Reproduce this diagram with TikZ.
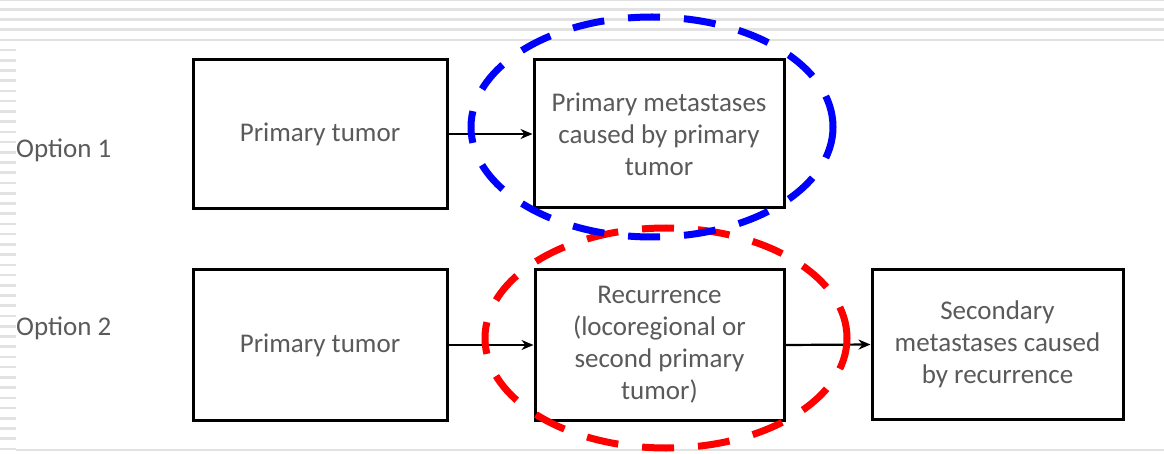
\documentclass[tikz,border=0pt]{standalone}
\usepackage{fontspec}
\setmainfont{Carlito}
\usetikzlibrary{arrows.meta}
\definecolor{stripe}{HTML}{E2E2E2}
\definecolor{txt}{HTML}{5A5A5A}
\tikzset{
  stripeline/.style={stripe, line width=2.6pt},
  flowbox/.style={draw=black, line width=3pt, fill=white, inner sep=0pt, align=center,
    text=txt, font=\fontsize{27}{32}\selectfont},
  optlabel/.style={anchor=west, inner sep=0pt, text=txt, font=\fontsize{27}{32}\selectfont},
  flowarrow/.style={draw=black, line width=2.2pt, -{Stealth[length=12pt,width=10pt]}},
  dashring/.style={line width=7pt, dash pattern=on 32pt off 24pt},
}
\begin{document}
\begin{tikzpicture}[x=1pt,y=-1pt]
\useasboundingbox (0,0) rectangle (1164,454);
% background stripes
\foreach \yy in {0,9.5,19.5,29.5,40}{
  \draw[stripeline] (0,\yy) -- (1164,\yy);
}
\foreach \i in {0,...,39}{
  \draw[stripeline] (0,50+10.23*\i) -- (16,50+10.23*\i);
}
\draw[stripe, line width=1.5pt] (16,450) -- (1164,450);
% labels
\node[optlabel] (opt1) at (16,150) {Option 1};
\node[optlabel] (opt2) at (16,328) {Option 2};
% boxes row 1
\node[flowbox, minimum width=254pt, minimum height=149pt] (pt1) at (320,134) {Primary tumor};
\node[flowbox, minimum width=250pt, minimum height=148pt] (pm1) at (659,134) {Primary metastases\\caused by primary\\tumor};
% boxes row 2
\node[flowbox, minimum width=254pt, minimum height=150pt] (pt2) at (320,345) {Primary tumor};
\node[flowbox, minimum width=249pt, minimum height=150pt] (rec) at (659.5,345) {Recurrence\\(locoregional or\\second primary\\tumor)};
\node[flowbox, minimum width=251pt, minimum height=149pt] (sec) at (997.5,344.5) {Secondary\\metastases caused\\by recurrence};
% arrows
\draw[flowarrow] (pt1.east) -- (pm1.west);
\draw[flowarrow] (pt2.east) -- (rec.west);
\draw[flowarrow] (rec.east) -- (sec.west);
% dashed ellipses
\draw[dashring, red] (666,338) ellipse [x radius=181pt, y radius=110pt];
\draw[dashring, blue] (652,127) ellipse [x radius=181pt, y radius=110pt];
\end{tikzpicture}
\end{document}
